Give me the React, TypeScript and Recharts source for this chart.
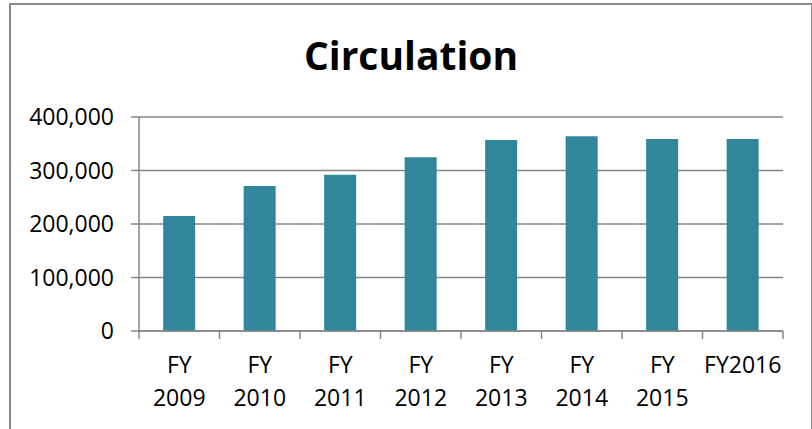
import React from "react";
import { BarChart, Bar, XAxis, YAxis, CartesianGrid } from "recharts";

const categories = ["FY 2009", "FY 2010", "FY 2011", "FY 2012", "FY 2013", "FY 2014", "FY 2015", "FY2016"];
const circulation = [215000, 271000, 292000, 325000, 357000, 364000, 359000, 359000];
const yTicks = [0, 100000, 200000, 300000, 400000];

const data = categories.map((name, i) => ({ name, value: circulation[i] }));

const W = 812;
const H = 429;
const LEFT = 139;
const RIGHT = 29;
const band = (W - LEFT - RIGHT) / categories.length;
const font = "'Open Sans', sans-serif";
const gray = "#868686";

// two-line category labels plus Excel-style boundary tick marks
function XTick(props: any) {
  const { x, y, payload, index } = props;
  const lines = String(payload.value).split(" ");
  return (
    <g>
      <line x1={x - band / 2} x2={x - band / 2} y1={y} y2={y + 8} stroke={gray} strokeWidth={1.5} />
      {index === categories.length - 1 && (
        <line x1={x + band / 2} x2={x + band / 2} y1={y} y2={y + 8} stroke={gray} strokeWidth={1.5} />
      )}
      {lines.map((l, i) => (
        <text key={i} x={x} y={y + 42 + i * 33} textAnchor="middle" fontFamily={font} fontSize={23} fill="#000">
          {l}
        </text>
      ))}
    </g>
  );
}

export default function App() {
  return (
    <div style={{ position: "absolute", left: 0, top: 0, width: W, height: H, overflow: "hidden", background: "#fff" }}>
      <div
        style={{
          position: "absolute",
          left: 9,
          top: 3,
          width: 800,
          height: 520,
          border: "2px solid #8a8a8a",
        }}
      />
      <svg width={W} height={100} style={{ position: "absolute", left: 0, top: 0 }}>
        <text x={411} y={70} textAnchor="middle" fontFamily={font} fontWeight="bold" fontSize={39} fill="#000">
          Circulation
        </text>
      </svg>
      <div style={{ position: "absolute", left: 0, top: 0 }}>
        <BarChart width={W} height={H} data={data} margin={{ top: 117, right: RIGHT, left: 0, bottom: 0 }} barCategoryGap="30%">
          <CartesianGrid vertical={false} stroke={gray} strokeWidth={1.5} />
          <XAxis
            dataKey="name"
            height={98}
            interval={0}
            tickLine={false}
            tickSize={0}
            tickMargin={0}
            axisLine={{ stroke: gray, strokeWidth: 1.5 }}
            tick={<XTick />}
          />
          <YAxis
            width={LEFT}
            domain={[0, 400000]}
            ticks={yTicks}
            interval={0}
            tickSize={8}
            tickMargin={17}
            tickLine={{ stroke: gray, strokeWidth: 1.5 }}
            axisLine={{ stroke: gray, strokeWidth: 1.5 }}
            tickFormatter={(v: number) => v.toLocaleString("en-US")}
            tick={{ fontFamily: font, fontSize: 23, fill: "#000" }}
          />
          <Bar dataKey="value" fill="#31869B" isAnimationActive={false} />
        </BarChart>
      </div>
    </div>
  );
}
